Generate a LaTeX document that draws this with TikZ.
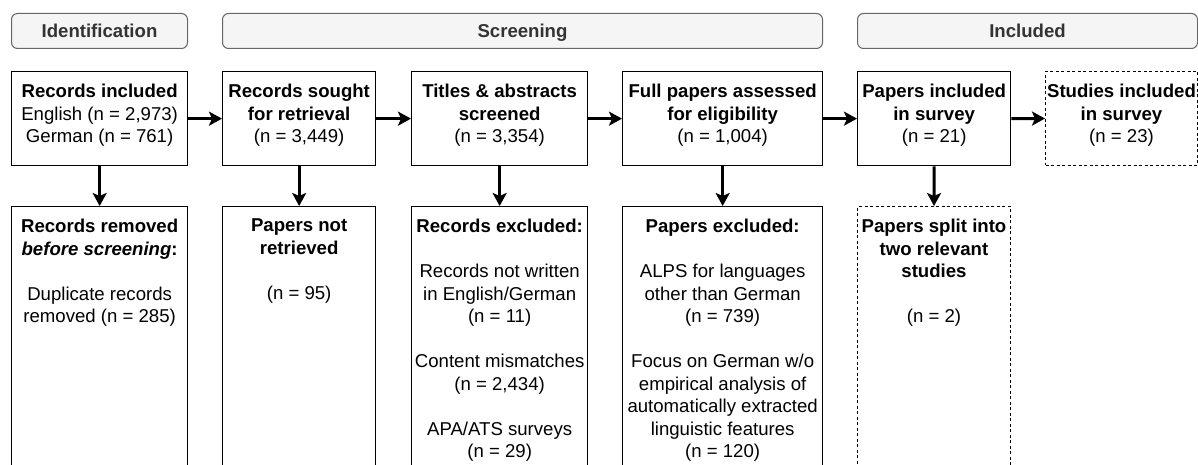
\documentclass[tikz,border=0pt]{standalone}
\usepackage{fontspec}
\setmainfont{Liberation Sans}
\usetikzlibrary{arrows.meta}
\definecolor{hdrfill}{HTML}{F5F5F5}
\definecolor{hdrline}{HTML}{666666}
\definecolor{hdrtext}{HTML}{333333}
\begin{document}
\begin{tikzpicture}[x=1pt,y=-1pt,
  hdr/.style={draw=hdrline, fill=hdrfill, line width=1pt, rounded corners=6pt, anchor=north west, inner sep=0pt, minimum height=35pt, text height=16pt, text depth=3pt, text=hdrtext, font=\fontsize{18.6}{22.5}\selectfont\bfseries},
  mybox/.style={draw=black, line width=1.3pt, anchor=north west, inner sep=0pt, minimum height=94pt},
  lowbox/.style={draw=black, line width=1.3pt, anchor=north west, inner sep=0pt, minimum height=320pt},
  dashbox/.style={dash pattern=on 3pt off 2.5pt, line width=1pt},
  txt/.style={anchor=north, inner sep=0pt, align=center, font=\fontsize{18.6}{22.5}\selectfont},
  arr/.style={line width=3pt, -{Stealth[length=13pt,width=14pt,inset=3pt]}}
]
\useasboundingbox (0,0) rectangle (1198,465);

% headers
\node[hdr, minimum width=176pt] (h1) at (11,13) {Identification};
\node[hdr, minimum width=600pt] (h2) at (222,13) {Screening};
\node[hdr, minimum width=340pt] (h3) at (857,13) {Included};

% row 1
\node[mybox, minimum width=176pt] (b1) at (11,71) {};
\node[mybox, minimum width=153pt] (b2) at (222,71) {};
\node[mybox, minimum width=176pt] (b3) at (411,71) {};
\node[mybox, minimum width=200pt] (b4) at (622,71) {};
\node[mybox, minimum width=153pt] (b5) at (857,71) {};
\node[mybox, dashbox, minimum width=152pt] (b6) at (1045,71) {};

\node[txt] (b1t) at ([yshift=-13pt]b1.north) {\textbf{Records included}\\English (n = 2,973)\\German (n = 761)};
\node[txt] (b2t) at ([yshift=-13pt]b2.north) {\textbf{Records sought}\\\textbf{for retrieval}\\(n = 3,449)};
\node[txt] (b3t) at ([yshift=-13pt]b3.north) {\textbf{Titles \& abstracts}\\\textbf{screened}\\(n = 3,354)};
\node[txt] (b4t) at ([yshift=-13pt]b4.north) {\textbf{Full papers assessed}\\\textbf{for eligibility}\\(n = 1,004)};
\node[txt] (b5t) at ([yshift=-13pt]b5.north) {\textbf{Papers included}\\\textbf{in survey}\\(n = 21)};
\node[txt] (b6t) at ([yshift=-13pt]b6.north) {\textbf{Studies included}\\\textbf{in survey}\\(n = 23)};

% row 2
\node[lowbox, minimum width=176pt] (c1) at (11,206) {};
\node[lowbox, minimum width=153pt] (c2) at (222,206) {};
\node[lowbox, minimum width=176pt] (c3) at (411,206) {};
\node[lowbox, minimum width=200pt] (c4) at (622,206) {};
\node[lowbox, dashbox, minimum width=153pt] (c5) at (857,206) {};

\node[txt] (c1t) at ([yshift=-13pt]c1.north) {\textbf{Records removed}\\\textbf{\textit{before screening}:}\\[22.5pt]Duplicate records\\removed (n = 285)};
\node[txt] (c2t) at ([yshift=-13pt]c2.north) {\textbf{Papers not}\\\textbf{retrieved}\\[22.5pt](n = 95)};
\node[txt] (c3t) at ([yshift=-13pt]c3.north) {\textbf{Records excluded:}\\[22.5pt]Records not written\\in English/German\\(n = 11)\\[22.5pt]Content mismatches\\(n = 2,434)\\[22.5pt]APA/ATS surveys\\(n = 29)};
\node[txt] (c4t) at ([yshift=-13pt]c4.north) {\textbf{Papers excluded:}\\[22.5pt]ALPS for languages\\other than German\\(n = 739)\\[22.5pt]Focus on German w/o\\empirical analysis of\\automatically extracted\\linguistic features\\(n = 120)};
\node[txt] (c5t) at ([yshift=-13pt]c5.north) {\textbf{Papers split into}\\\textbf{two relevant}\\\textbf{studies}\\[22.5pt](n = 2)};

% horizontal arrows
\draw[arr] (b1.east) -- (b2.west);
\draw[arr] (b2.east) -- (b3.west);
\draw[arr] (b3.east) -- (b4.west);
\draw[arr] (b4.east) -- (b5.west);
\draw[arr] (b5.east) -- (b6.west);

% vertical arrows
\draw[arr] (b1.south) -- (c1.north);
\draw[arr] (b2.south) -- (c2.north);
\draw[arr] (b3.south) -- (c3.north);
\draw[arr] (b4.south) -- (c4.north);
\draw[arr] (b5.south) -- (c5.north);
\end{tikzpicture}
\end{document}
